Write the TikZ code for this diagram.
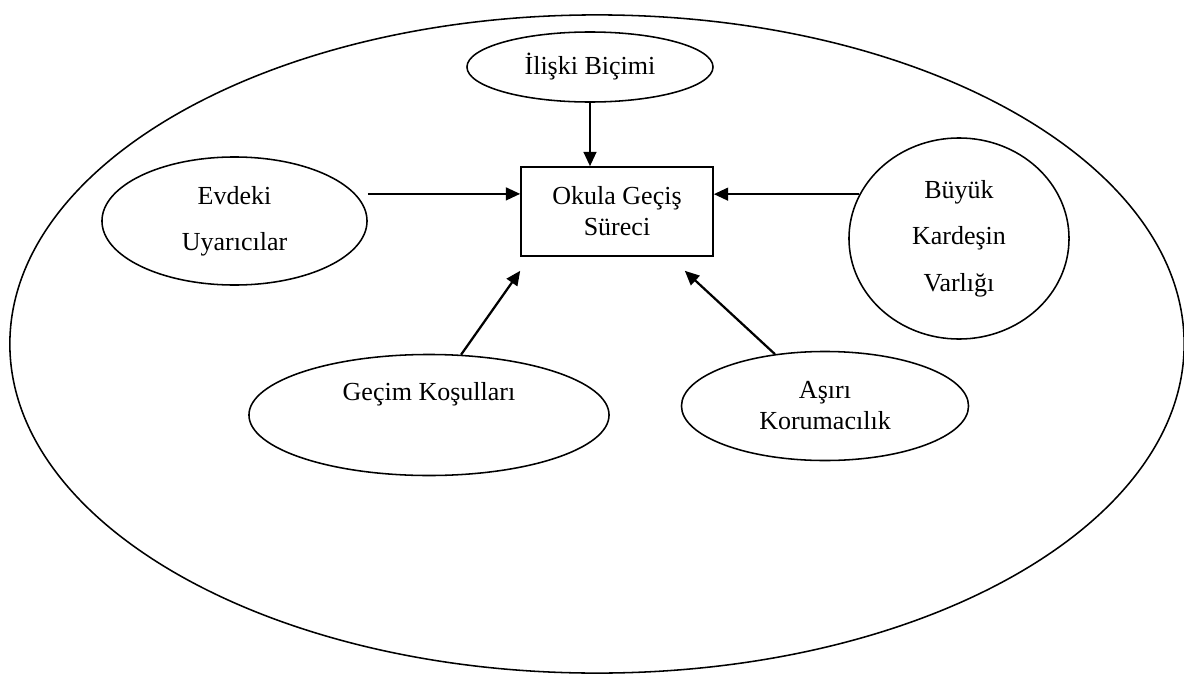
\documentclass[tikz,border=0pt]{standalone}
\usepackage{fontspec}
\setmainfont{Liberation Serif}
\usetikzlibrary{arrows.meta,shapes.geometric}

\begin{document}
\begin{tikzpicture}[x=0.025cm,y=-0.025cm,bubble/.style={ellipse,draw,line width=1.1pt,inner sep=0pt,align=center,font=\fontsize{18.5}{33}\selectfont},core/.style={rectangle,draw,line width=1.1pt,inner sep=0pt,align=center,font=\fontsize{18.5}{22}\selectfont},feed/.style={line width=1.6pt,-{Triangle[length=3.6mm,width=3.2mm]}}]
\useasboundingbox (0,0) rectangle (1184,677);
\coordinate (F) at (597,344);
\coordinate (S) at (617,211.5);
\coordinate (T) at (590,67);
\coordinate (L) at (234.5,221);
\coordinate (R) at (959,238.5);
\coordinate (BL) at (429,415);
\coordinate (BR) at (825,406);
\node[ellipse,draw,line width=1.1pt,minimum width=29.35cm,minimum height=16.45cm,inner sep=0pt] (frame) at (F) {};
\node[core,minimum width=4.8cm,minimum height=2.225cm] (surec) at (S) {Okula Geçiş\\Süreci};
\node[bubble,minimum width=6.15cm,minimum height=1.75cm] (iliski) at (T) {İlişki Biçimi};
\node[bubble,minimum width=6.625cm,minimum height=3.2cm] (evdeki) at (L) {Evdeki\\Uyarıcılar};
\node[bubble,minimum width=5.5cm,minimum height=5.025cm] (kardes) at (R) {Büyük\\Kardeşin\\Varlığı};
\node[bubble,minimum width=9cm,minimum height=3.025cm] (gecim) at (BL) {Geçim Koşulları\\\mbox{}};
\node[bubble,minimum width=7.175cm,minimum height=2.725cm,font=\fontsize{18.5}{22}\selectfont] (koruma) at (BR) {Aşırı\\Korumacılık};
\coordinate (lin) at ([yshift=4.4mm]surec.west);
\draw[feed] (iliski.south) -- (iliski.south |- surec.north);
\draw[feed] (evdeki.east |- lin) -- (lin);
\draw[feed] (kardes.156) -- (kardes.156 -| surec.east);
\draw[feed] (gecim.62) -- ([yshift=-3.5mm]surec.south west);
\draw[feed] (koruma.134) -- ([xshift=-7.25mm,yshift=-3.5mm]surec.south east);
\end{tikzpicture}
\end{document}
